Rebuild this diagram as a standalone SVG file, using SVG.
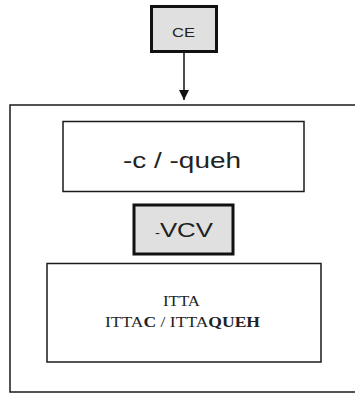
<svg xmlns="http://www.w3.org/2000/svg" width="355" height="394" viewBox="0 0 355 394">
<style>
.thin{fill:#fff;stroke:#1a1a1a;stroke-width:1.5}
.thick{fill:#e0e0e0;stroke:#111;stroke-width:3}
.sans{font-family:"Liberation Sans",Arial,sans-serif;fill:#222}
.serif{font-family:"Liberation Serif","Times New Roman",serif;fill:#222}
</style>
<defs>
<marker id="arr" viewBox="0 0 10 10" refX="10" refY="5" markerWidth="10" markerHeight="10" markerUnits="userSpaceOnUse" orient="auto">
<path d="M0,0 L10,5 L0,10 z" fill="#111"/>
</marker>
</defs>
<rect width="355" height="394" fill="#fff"/>
<g id="container">
<rect class="thin" x="10" y="105" width="360" height="287"/>
</g>
<g id="connectors">
<line x1="184" y1="53" x2="184" y2="100" stroke="#111" stroke-width="1.5" marker-end="url(#arr)"/>
</g>
<g id="ce">
<rect class="thick" x="151.5" y="6.5" width="65" height="45"/>
<text class="sans" x="172" y="37" font-size="12" textLength="23" lengthAdjust="spacingAndGlyphs">CE</text>
</g>
<g id="suffix">
<rect class="thin" x="63" y="121.5" width="241" height="70"/>
<text class="sans" x="123" y="167.5" font-size="22" textLength="118" lengthAdjust="spacingAndGlyphs">-c / -queh</text>
</g>
<g id="vcv">
<rect class="thick" x="134" y="205" width="99" height="49"/>
<text class="sans" x="155" y="237" font-size="21" textLength="58" lengthAdjust="spacingAndGlyphs"><tspan font-size="12">-</tspan>VCV</text>
</g>
<g id="itta">
<rect class="thin" x="47" y="263.5" width="274" height="98.5"/>
<text class="serif" x="163" y="306" font-size="14" textLength="37" lengthAdjust="spacingAndGlyphs">ITTA</text>
<text class="serif" x="105" y="327" font-size="14" textLength="155" lengthAdjust="spacingAndGlyphs">ITTA<tspan font-weight="bold">C</tspan> / ITTA<tspan font-weight="bold">QUEH</tspan></text>
</g>
</svg>
